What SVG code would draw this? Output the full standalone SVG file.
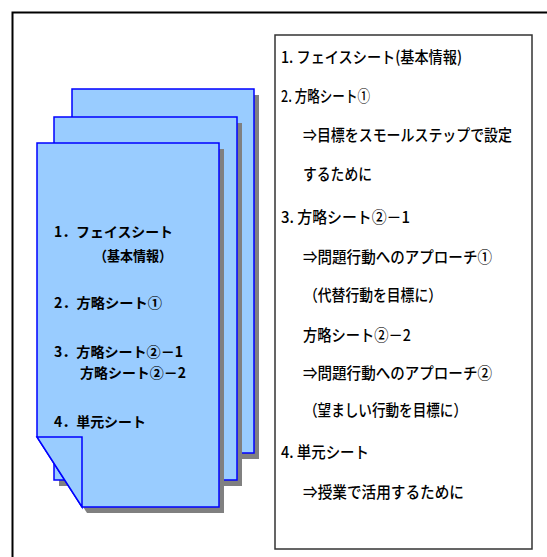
<svg xmlns="http://www.w3.org/2000/svg" width="547" height="557" viewBox="0 0 547 557">
<defs>
<style>
.frame{fill:none;stroke:#000;stroke-width:2}
.box{fill:#fff;stroke:#333;stroke-width:1.5}
.page{fill:#99CCFF;stroke:#0000FF;stroke-width:1.5;stroke-linejoin:miter}
.shadow{fill:#808080;stroke:none}
.pt{font-family:"Noto Sans CJK JP","Noto Sans CJK SC",sans-serif;font-size:14px;font-weight:bold;fill:#000}
.rt{font-family:"Noto Sans CJK JP","Noto Sans CJK SC",sans-serif;font-size:16px;font-weight:500;fill:#000}
</style>
</defs>
<rect width="547" height="557" fill="#fff"/>
<rect id="outer-frame" class="frame" x="12.5" y="12.5" width="600" height="600"/>

<g id="pages">
  <g id="page-back">
    <rect class="shadow" x="77" y="95" width="182" height="364"/>
    <rect class="page" x="72" y="89" width="182" height="364"/>
  </g>
  <g id="page-middle">
    <rect class="shadow" x="59" y="123" width="183" height="363"/>
    <rect class="page" x="54" y="117" width="183" height="363"/>
  </g>
  <g id="page-front">
    <polygon class="shadow" points="42,149 224,149 224,513 87,513 42,443"/>
    <polygon class="page" points="37,143 219,143 219,507 82,507 37,437"/>
    <polygon class="page" points="37,437 82,437 82,507"/>
    <text class="pt" x="54" y="237" textLength="119" lengthAdjust="spacingAndGlyphs">1．フェイスシート</text>
    <text class="pt" x="94" y="261" textLength="78" lengthAdjust="spacingAndGlyphs">（基本情報）</text>
    <text class="pt" x="54" y="308" textLength="108" lengthAdjust="spacingAndGlyphs">2．方略シート①</text>
    <text class="pt" x="54" y="357" textLength="129" lengthAdjust="spacingAndGlyphs">3．方略シート②－1</text>
    <text class="pt" x="80" y="378" textLength="106" lengthAdjust="spacingAndGlyphs">方略シート②－2</text>
    <text class="pt" x="54" y="427" textLength="92" lengthAdjust="spacingAndGlyphs">4．単元シート</text>
  </g>
</g>

<g id="description-box">
  <rect class="box" x="275" y="35" width="257" height="514"/>
  <text class="rt" x="281" y="63" textLength="181" lengthAdjust="spacingAndGlyphs">1. フェイスシート(基本情報)</text>
  <text class="rt" x="281" y="102" textLength="89" lengthAdjust="spacingAndGlyphs">2. 方略シート①</text>
  <text class="rt" x="303" y="141" textLength="209" lengthAdjust="spacingAndGlyphs">⇒目標をスモールステップで設定</text>
  <text class="rt" x="303" y="180" textLength="69" lengthAdjust="spacingAndGlyphs">するために</text>
  <text class="rt" x="281" y="223" textLength="129" lengthAdjust="spacingAndGlyphs">3. 方略シート②－1</text>
  <text class="rt" x="303" y="263" textLength="189" lengthAdjust="spacingAndGlyphs">⇒問題行動へのアプローチ①</text>
  <text class="rt" x="304" y="301" textLength="138" lengthAdjust="spacingAndGlyphs">（代替行動を目標に）</text>
  <text class="rt" x="303" y="341" textLength="108" lengthAdjust="spacingAndGlyphs">方略シート②－2</text>
  <text class="rt" x="303" y="379" textLength="189" lengthAdjust="spacingAndGlyphs">⇒問題行動へのアプローチ②</text>
  <text class="rt" x="304" y="416" textLength="163" lengthAdjust="spacingAndGlyphs">（望ましい行動を目標に）</text>
  <text class="rt" x="281" y="458" textLength="88" lengthAdjust="spacingAndGlyphs">4. 単元シート</text>
  <text class="rt" x="303" y="498" textLength="161" lengthAdjust="spacingAndGlyphs">⇒授業で活用するために</text>
</g>
</svg>
